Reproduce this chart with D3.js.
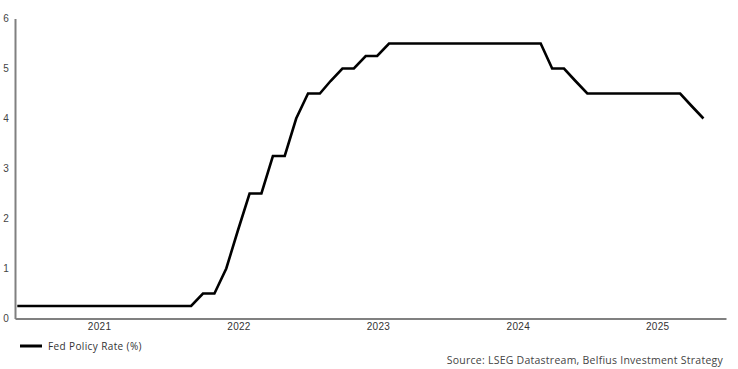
<!DOCTYPE html>
<html>
<head>
<meta charset="utf-8">
<script src="https://cdn.jsdelivr.net/npm/d3@7"></script>
<style>
  html, body { margin: 0; padding: 0; background: #fff; }
  svg { display: block; font-family: "Open Sans", "Noto Sans", sans-serif; }
</style>
</head>
<body>
<svg id="chart" width="738" height="369"></svg>
<script>
// ---- Data (monthly, month-end) ----
const months = [
  "2020-11","2020-12",
  "2021-01","2021-02","2021-03","2021-04","2021-05","2021-06","2021-07","2021-08","2021-09","2021-10","2021-11","2021-12",
  "2022-01","2022-02","2022-03","2022-04","2022-05","2022-06","2022-07","2022-08","2022-09","2022-10","2022-11","2022-12",
  "2023-01","2023-02","2023-03","2023-04","2023-05","2023-06","2023-07","2023-08","2023-09","2023-10","2023-11","2023-12",
  "2024-01","2024-02","2024-03","2024-04","2024-05","2024-06","2024-07","2024-08","2024-09","2024-10","2024-11","2024-12",
  "2025-01","2025-02","2025-03","2025-04","2025-05","2025-06","2025-07","2025-08","2025-09","2025-10"
];
const fedRate = [
  0.25,0.25,
  0.25,0.25,0.25,0.25,0.25,0.25,0.25,0.25,0.25,0.25,0.25,0.25,
  0.25,0.25,0.5,0.5,1.0,1.75,2.5,2.5,3.25,3.25,4.0,4.5,
  4.5,4.75,5.0,5.0,5.25,5.25,5.5,5.5,5.5,5.5,5.5,5.5,
  5.5,5.5,5.5,5.5,5.5,5.5,5.5,5.5,5.0,5.0,4.75,4.5,
  4.5,4.5,4.5,4.5,4.5,4.5,4.5,4.5,4.25,4.0
];
const yTicks = [0,1,2,3,4,5,6];
const xTickYears = [2021,2022,2023,2024,2025];
const seriesName = "Fed Policy Rate (%)";
const sourceText = "Source: LSEG Datastream, Belfius Investment Strategy";

// ---- Build ----
const monthEnd = s => { const [y,m] = s.split("-").map(Number); return new Date(y, m, 0); };
const data = months.map((m,i) => ({ date: monthEnd(m), value: fedRate[i] }));

const svg = d3.select("#chart");
const x = d3.scaleTime()
  .domain([new Date(2020,10,24), new Date(2025,11,29)])
  .range([15, 726]);
const y = d3.scaleLinear().domain([0,6]).range([318.5, 18.5]);

// y axis
const yAxis = svg.append("g").attr("transform","translate(15,0)")
  .call(d3.axisLeft(y).tickValues(yTicks).tickSize(0).tickPadding(7).tickFormat(d3.format("d")));
yAxis.select(".domain").attr("stroke","#808080").attr("stroke-width",2);
yAxis.selectAll("text").attr("fill","#444").attr("font-size",10).attr("text-anchor","middle").attr("dx", -2);

// x axis (labels at mid-year)
const xAxis = svg.append("g").attr("transform","translate(0,318.5)")
  .call(d3.axisBottom(x).tickValues(xTickYears.map(yr => new Date(yr,6,2)))
    .tickSize(0).tickPadding(4).tickFormat(d3.timeFormat("%Y")));
xAxis.select(".domain").attr("stroke","#808080").attr("stroke-width",2);
xAxis.selectAll("text").attr("fill","#333").attr("font-size",10).attr("letter-spacing",0.3);

// line
svg.append("path").datum(data)
  .attr("fill","none").attr("stroke","#000").attr("stroke-width",2.6)
  .attr("stroke-linejoin","miter")
  .attr("d", d3.line().x(d => x(d.date)).y(d => y(d.value)));

// legend
svg.append("line").attr("x1",20).attr("x2",42).attr("y1",346).attr("y2",346)
  .attr("stroke","#000").attr("stroke-width",3);
svg.append("text").attr("x",48).attr("y",349.5).attr("font-size",10).attr("fill","#333")
  .attr("letter-spacing",0.38).text(seriesName);

// source
svg.append("text").attr("x",723).attr("y",363.5).attr("font-size",10.5).attr("fill","#444")
  .attr("letter-spacing",0.25).attr("text-anchor","end").text(sourceText);
</script>
</body>
</html>
